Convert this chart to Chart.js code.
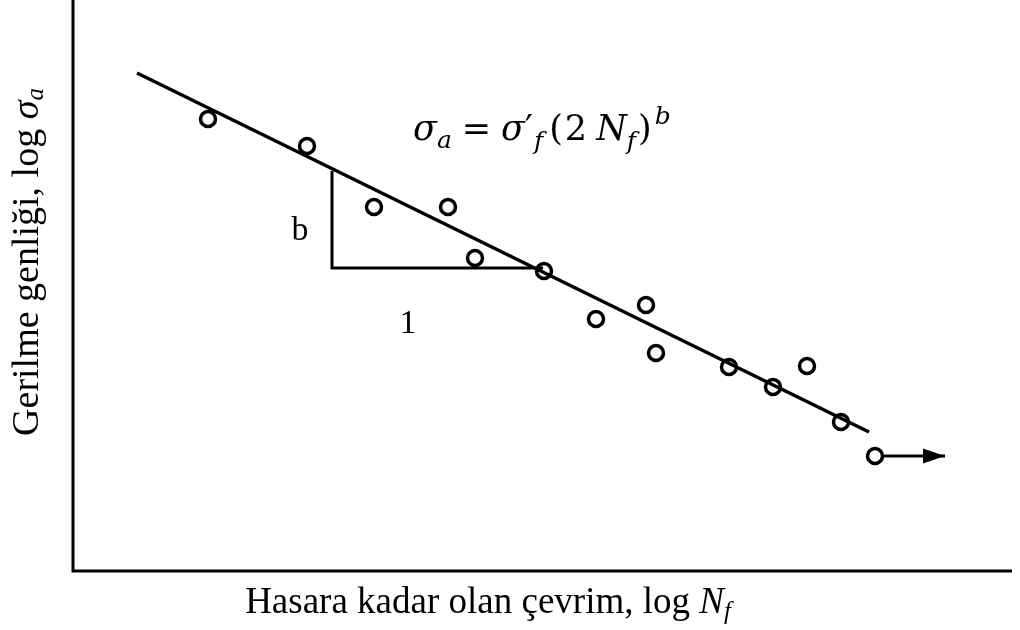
<!DOCTYPE html>
<html>
<head>
<meta charset="utf-8">
<script src="https://cdn.jsdelivr.net/npm/chart.js@4"></script>
<style>
  html, body { margin: 0; padding: 0; background: #fff; }
</style>
</head>
<body>
<canvas id="sn" width="1020" height="630"></canvas>
<script>
// test results: log Nf vs log sigma_a (arbitrary log units)
var logN = [1.36, 2.35, 3.02, 3.76, 4.03, 4.72, 5.24, 5.74, 5.84, 6.57, 7.01, 7.35, 7.69];
var logS = [4.52, 4.25, 3.64, 3.64, 3.13, 3.00, 2.52, 2.66, 2.18, 2.04, 1.84, 2.05, 1.49];
// run-out specimen (no failure)
var runoutN = [8.03];
var runoutS = [1.15];
var arrowN = [8.11, 8.73];
// Basquin fit line and slope triangle
var fitN = [0.65, 7.97];
var fitS = [4.98, 1.39];
var triN = [2.60, 2.60, 4.71];
var triS = [4.00, 3.03, 3.03];

var xMax = 9.4, yMax = 5.71;

function pts(xs, ys) {
    return xs.map(function (x, i) { return { x: x, y: ys[i] }; });
}

var serif = '"Liberation Serif", "Times New Roman", serif';
var mathFont = '"DejaVu Serif", serif';

// draws a run of text pieces (normal / italic / sub / sup) starting at x
function drawPieces(ctx, pieces, x, y, size, family) {
    pieces.forEach(function (p) {
        var s = p.size || size;
        ctx.font = (p.italic ? 'italic ' : '') + s + 'px ' + (family || serif);
        ctx.fillText(p.t, x, y + (p.dy || 0));
        x += ctx.measureText(p.t).width + (p.gap || 0);
    });
    return x;
}
function piecesWidth(ctx, pieces, size, family) {
    var w = 0;
    pieces.forEach(function (p) {
        var s = p.size || size;
        ctx.font = (p.italic ? 'italic ' : '') + s + 'px ' + (family || serif);
        w += ctx.measureText(p.t).width + (p.gap || 0);
    });
    return w;
}

var xTitle = [
    { t: 'Hasara kadar olan çevrim, log ' },
    { t: 'N', italic: true },
    { t: 'f', italic: true, size: 25, dy: 6 }
];
var yTitle = [
    { t: 'Gerilme genliği, log ' },
    { t: 'σ', italic: true },
    { t: 'a', italic: true, size: 25, dy: 5 }
];
var formula = [
    { t: 'σ', italic: true },
    { t: 'a', italic: true, size: 25, dy: 8, gap: 10 },
    { t: '=', gap: 10 },
    { t: 'σ', italic: true },
    { t: '′', gap: 1 },
    { t: 'f', italic: true, size: 25, dy: 9, gap: 6 },
    { t: '(', gap: 2 },
    { t: '2', gap: 9 },
    { t: 'N', italic: true },
    { t: 'f', italic: true, size: 25, dy: 9, gap: 2 },
    { t: ')', gap: 3 },
    { t: 'b', italic: true, size: 25, dy: -16 }
];

var decor = {
    id: 'decor',
    beforeDatasetsDraw: function (chart) {
        var ctx = chart.ctx, a = chart.chartArea;
        ctx.save();
        ctx.strokeStyle = '#000';
        ctx.lineWidth = 3;
        ctx.beginPath();
        ctx.moveTo(a.left + 1, 0);
        ctx.lineTo(a.left + 1, a.bottom);
        ctx.lineTo(a.right, a.bottom);
        ctx.stroke();
        ctx.restore();
    },
    afterDatasetsDraw: function (chart) {
        var ctx = chart.ctx, xs = chart.scales.x, ys = chart.scales.y;
        ctx.save();
        ctx.fillStyle = '#000';

        // arrow head for the run-out
        var tx = xs.getPixelForValue(arrowN[1]), ty = ys.getPixelForValue(runoutS[0]);
        ctx.beginPath();
        ctx.moveTo(tx, ty);
        ctx.lineTo(tx - 22, ty - 7.5);
        ctx.lineTo(tx - 22, ty + 7.5);
        ctx.closePath();
        ctx.fill();

        // slope labels
        ctx.font = '34px ' + serif;
        ctx.textAlign = 'center';
        ctx.textBaseline = 'alphabetic';
        ctx.fillText('b', xs.getPixelForValue(2.28), ys.getPixelForValue(3.31));
        ctx.fillText('1', xs.getPixelForValue(3.36), ys.getPixelForValue(2.38));

        ctx.textAlign = 'left';
        // Basquin relation: first glyph starts at log N = 3.41
        var x0 = xs.getPixelForValue(3.41);
        drawPieces(ctx, formula, x0, ys.getPixelForValue(4.31), 35, mathFont);

        // axis titles
        var w = piecesWidth(ctx, xTitle, 37);
        drawPieces(ctx, xTitle, 488 - w / 2, 613, 37);

        ctx.translate(38, 262);
        ctx.rotate(-Math.PI / 2);
        w = piecesWidth(ctx, yTitle, 38);
        drawPieces(ctx, yTitle, -w / 2, 0, 38);
        ctx.restore();
    }
};

var ctx = document.getElementById('sn');
var chart = new Chart(ctx, {
    type: 'scatter',
    data: {
        datasets: [
            {
                label: 'fit',
                data: pts(fitN, fitS),
                showLine: true,
                borderColor: '#000',
                borderWidth: 3.5,
                pointRadius: 0,
                order: 3
            },
            {
                label: 'slope',
                data: pts(triN, triS),
                showLine: true,
                borderColor: '#000',
                borderWidth: 3,
                pointRadius: 0,
                borderJoinStyle: 'miter',
                order: 3
            },
            {
                label: 'arrow',
                data: pts(arrowN, [runoutS[0], runoutS[0]]),
                showLine: true,
                borderColor: '#000',
                borderWidth: 3,
                pointRadius: 0,
                order: 2
            },
            {
                label: 'tests',
                data: pts(logN, logS),
                pointStyle: 'circle',
                pointRadius: 7.5,
                borderWidth: 3.5,
                borderColor: '#000',
                backgroundColor: 'rgba(255,255,255,0)',
                order: 1
            },
            {
                label: 'runout',
                data: pts(runoutN, runoutS),
                pointStyle: 'circle',
                pointRadius: 7.5,
                borderWidth: 3.5,
                borderColor: '#000',
                backgroundColor: '#fff',
                order: 1
            }
        ]
    },
    options: {
        responsive: false,
        animation: false,
        layout: {
            autoPadding: false,
            padding: { left: 72, right: 8, top: 0, bottom: 59 }
        },
        plugins: {
            legend: { display: false },
            tooltip: { enabled: false }
        },
        scales: {
            x: { type: 'linear', min: 0, max: xMax, display: false },
            y: { type: 'linear', min: 0, max: yMax, display: false }
        },
        datasets: {
            scatter: { clip: false }
        }
    },
    plugins: [decor]
});
</script>
</body>
</html>
